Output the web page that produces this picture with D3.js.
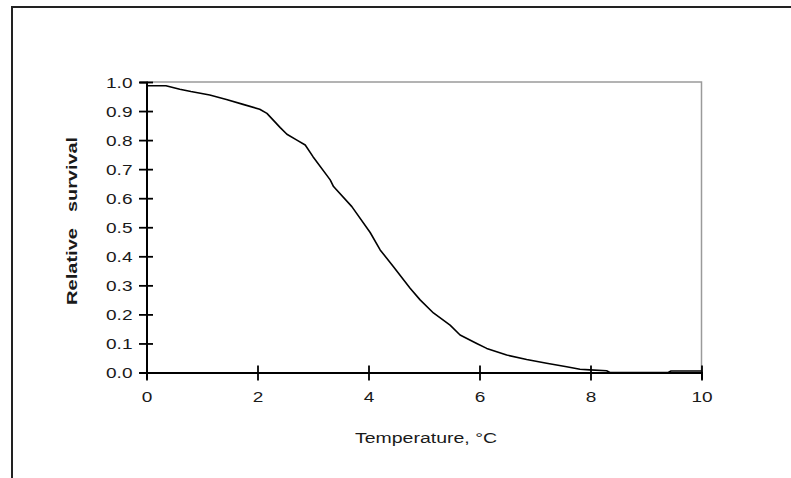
<!DOCTYPE html>
<html>
<head>
<meta charset="utf-8">
<script src="https://cdn.jsdelivr.net/npm/d3@7"></script>
<style>
  html, body { margin: 0; padding: 0; background: #fff; }
  svg { display: block; }
</style>
</head>
<body>
<svg id="chart" width="791" height="478"></svg>
<script>
// ---- data ----
const temperature = [0, 0.35, 0.6, 0.8, 1.14, 1.44, 1.74, 2.04, 2.17, 2.41, 2.53, 2.71, 2.86, 3.0, 3.31, 3.37, 3.70, 4.03, 4.21, 4.45, 4.75, 4.93, 5.17, 5.47, 5.65, 5.95, 6.13, 6.49, 6.85, 7.21, 7.57, 7.81, 7.99, 8.29, 8.35, 9.4, 9.45, 10];
const survival    = [0.987, 0.987, 0.975, 0.967, 0.955, 0.94, 0.923, 0.906, 0.892, 0.843, 0.82, 0.80, 0.783, 0.743, 0.663, 0.64, 0.571, 0.482, 0.422, 0.364, 0.29, 0.25, 0.205, 0.163, 0.129, 0.10, 0.083, 0.06, 0.045, 0.032, 0.02, 0.011, 0.009, 0.006, 0, 0, 0.005, 0.005];
const xTicks = [0, 2, 4, 6, 8, 10];
const yTicks = [0, 0.1, 0.2, 0.3, 0.4, 0.5, 0.6, 0.7, 0.8, 0.9, 1.0];
const xTitle = "Temperature, \u00b0C";
const yTitleWords = ["Relative", "survival"];

const svg = d3.select("#chart");
const plot = { left: 146.5, right: 701.5, top: 82, bottom: 372.5 };
const FONT = "'Liberation Sans', Arial, sans-serif";
const STRETCH = 1.36;

// outer frame (top and left edges visible)
svg.append("path")
  .attr("d", `M12,478 L12,7 L791,7`)
  .attr("fill", "none").attr("stroke", "#222").attr("stroke-width", 2);

const x = d3.scaleLinear().domain([0, 10]).range([plot.left, plot.right]);
const y = d3.scaleLinear().domain([0, 1]).range([plot.bottom, plot.top]);

// plot area border (grey top & right)
svg.append("path")
  .attr("d", `M${plot.left},${plot.top} L${plot.right},${plot.top} L${plot.right},${plot.bottom}`)
  .attr("fill", "none").attr("stroke", "#9a9a9a").attr("stroke-width", 1.5);

// curve
const data = temperature.map((t, i) => ({ t, v: survival[i] }));
svg.append("path")
  .datum(data)
  .attr("fill", "none")
  .attr("stroke", "#000")
  .attr("stroke-width", 1.6)
  .attr("stroke-linejoin", "round")
  .attr("d", d3.line().x(d => x(d.t)).y(d => y(d.v)));

// y axis
const gy = svg.append("g")
  .attr("transform", `translate(${plot.left},0)`)
  .call(d3.axisLeft(y).tickValues(yTicks).tickFormat(d3.format(".1f")).tickSizeOuter(0).tickSize(7));
gy.select(".domain").attr("stroke", "#000").attr("stroke-width", 2);
gy.selectAll(".tick line").attr("x1", -7.5).attr("x2", 6.5).attr("stroke", "#000").attr("stroke-width", 1.8);
gy.selectAll(".tick text")
  .attr("x", -14 / STRETCH).attr("dy", "0.36em")
  .attr("transform", `scale(${STRETCH},1)`)
  .attr("text-anchor", "end")
  .style("font-family", FONT).style("font-size", "14px").attr("fill", "#1a1a1a");

// x axis
const gx = svg.append("g")
  .attr("transform", `translate(0,${plot.bottom})`)
  .call(d3.axisBottom(x).tickValues(xTicks).tickFormat(d3.format("d")).tickSizeOuter(0).tickSize(7));
gx.select(".domain").attr("stroke", "#000").attr("stroke-width", 2);
gx.selectAll(".tick line").attr("y1", -7).attr("y2", 8).attr("stroke", "#000").attr("stroke-width", 1.8);
gx.selectAll(".tick text")
  .attr("y", 30).attr("dy", 0).attr("x", 0)
  .attr("transform", `scale(${STRETCH},1)`)
  .attr("text-anchor", "middle")
  .style("font-family", FONT).style("font-size", "14px").attr("fill", "#1a1a1a");

// axis titles
svg.append("text")
  .attr("x", 355).attr("y", 443)
  .attr("textLength", 142).attr("lengthAdjust", "spacingAndGlyphs")
  .style("font-family", FONT).style("font-size", "14px").attr("fill", "#1a1a1a")
  .text(xTitle);

const yTitle = svg.append("g").attr("transform", "translate(77,0) rotate(-90)");
const yTitlePos = [{ start: 305, len: 77 }, { start: 212, len: 75 }];
yTitleWords.forEach((w, i) => {
  yTitle.append("text")
    .attr("x", -yTitlePos[i].start).attr("y", 0)
    .attr("textLength", yTitlePos[i].len).attr("lengthAdjust", "spacingAndGlyphs")
    .style("font-family", FONT).style("font-size", "14px").style("font-weight", "bold").attr("fill", "#1a1a1a")
    .text(w);
});
</script>
</body>
</html>
